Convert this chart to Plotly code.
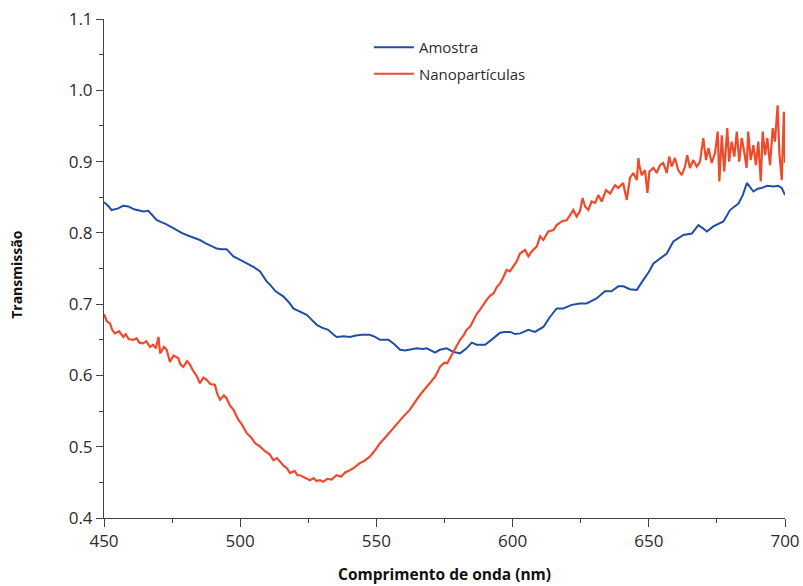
import plotly.graph_objects as go

blue_x = [450, 451.5, 452.8, 455, 457, 459, 461, 463, 464.5, 466.3, 468, 469.3, 471, 472.4, 474.8, 476.7, 478.5, 481, 483, 485.2,
          487, 488.9, 491.4, 493, 495, 496.3, 497.5, 500, 502.4, 505, 507.3, 509.7, 511, 513, 515.8, 518, 519.5, 522, 524.4, 526,
          528.1, 530, 532.3, 534, 535.4, 538, 540.3, 542.5, 544.6, 547.6, 549.5, 551.3, 554.4, 556.5, 558.7, 560.5, 562.4, 564.8, 567, 568.5,
          570, 571.5, 573.3, 575.8, 578.2, 580.7, 583.1, 585, 586.8, 589.9, 592.9, 595.4, 597, 599.1, 601, 602.8, 605.8, 608.2, 611.3, 613.7,
          616.2, 618.6, 621.7, 624.7, 627.2, 630.8, 633.9, 636.3, 638.8, 640.7, 643, 645.6, 648, 650, 651.7, 654, 656.6, 659, 662.7, 665.8,
          668.2, 670, 671.3, 673.7, 677.4, 679.8, 682.9, 684.5, 686, 688.4, 690, 691.4, 693.5, 695.7, 697.5, 698.8, 699.5, 700]
blue_y = [0.843, 0.838, 0.832, 0.834, 0.838, 0.837, 0.833, 0.831, 0.830, 0.831, 0.824, 0.818, 0.815, 0.813, 0.808, 0.804, 0.800, 0.796, 0.793, 0.790,
          0.786, 0.783, 0.778, 0.777, 0.777, 0.772, 0.767, 0.762, 0.757, 0.752, 0.746, 0.732, 0.727, 0.718, 0.711, 0.702, 0.694, 0.689, 0.685, 0.679,
          0.671, 0.667, 0.664, 0.658, 0.654, 0.655, 0.654, 0.656, 0.657, 0.657, 0.654, 0.650, 0.650, 0.644, 0.636, 0.635, 0.636, 0.638, 0.637, 0.638,
          0.635, 0.632, 0.636, 0.638, 0.633, 0.631, 0.638, 0.646, 0.643, 0.643, 0.652, 0.660, 0.661, 0.661, 0.658, 0.659, 0.664, 0.661, 0.668, 0.682,
          0.694, 0.694, 0.699, 0.701, 0.701, 0.708, 0.718, 0.718, 0.725, 0.725, 0.721, 0.720, 0.734, 0.745, 0.757, 0.764, 0.771, 0.788, 0.797, 0.799,
          0.811, 0.806, 0.802, 0.809, 0.816, 0.832, 0.841, 0.853, 0.870, 0.858, 0.862, 0.863, 0.866, 0.865, 0.866, 0.863, 0.856, 0.853]

red_x = [450, 451, 452.2, 453, 454, 455.5, 457.1, 458, 459, 460.8, 462, 463, 464.4, 465.5, 466.9, 468, 469, 470, 470.6, 472,
         473, 474.2, 475.5, 477.3, 478, 479.1, 480.5, 481.6, 482.5, 483.4, 484.2, 485.2, 486.5, 487.7, 489, 490.7, 491.5, 492.6, 494, 495,
         496.2, 497.5, 498.5, 499.3, 500.5, 502.4, 504, 505.5, 507.3, 509, 510.9, 512.2, 513.5, 514.6, 516, 517.1, 518.3, 520, 521, 522,
         523.2, 524.5, 525.6, 527, 528, 529.3, 530.5, 532, 533.5, 535.4, 537, 538.5, 540.3, 542, 543.9, 545.5, 547.6, 549.5, 551.3, 553,
         555, 557, 558.7, 560.5, 562.3, 563.5, 564.8, 566.5, 568.5, 570, 571.5, 572.5, 573.3, 575, 576, 577, 578.2, 579.5, 580.7, 582,
         583.1, 584.5, 585.6, 586.8, 588, 589.2, 590.5, 591.8, 593, 594.2, 595.4, 596.5, 597.8, 599, 600.3, 601.5,
         602.7, 604.6, 605.8, 607, 608.9, 610.1, 611.3, 613.1, 615, 616.2, 618, 619.9, 621.1, 622.3, 623.5, 624.7, 625.7, 626.6, 627.8, 629,
         630.3, 631.5, 632.7, 634.3, 635.8, 637.6, 638.8, 640.6, 641.9, 643.1, 644.3, 645.6, 646.2, 646.5, 647.4, 648.6, 649.5, 650.2,
         651.7, 652.9, 654.1, 655.3, 656.6, 657.5, 658.4, 659.6, 660.8, 662.1, 663.3, 664.1, 665.1, 666.3, 667.6, 668.8, 670, 671, 671.9, 673.1,
         674.3, 675.3, 675.9, 676.8, 677.7, 678.8, 679.5, 680.4, 681.4, 682.3, 683.2, 684.1, 685.1, 685.9, 686.5, 687.4, 688.4, 689.3, 690.2, 691.1,
         691.8, 692.7, 693.5, 694.5, 695.5, 696.3, 697.3, 697.9, 698.8, 699.6, 700]
red_y = [0.686, 0.676, 0.673, 0.664, 0.659, 0.662, 0.654, 0.658, 0.651, 0.650, 0.652, 0.646, 0.645, 0.648, 0.640, 0.643, 0.638, 0.654, 0.631, 0.640,
         0.636, 0.619, 0.628, 0.624, 0.616, 0.612, 0.620, 0.615, 0.608, 0.603, 0.598, 0.589, 0.597, 0.594, 0.588, 0.587, 0.575, 0.566, 0.572, 0.568,
         0.558, 0.552, 0.545, 0.538, 0.532, 0.519, 0.513, 0.505, 0.500, 0.494, 0.489, 0.481, 0.484, 0.479, 0.473, 0.470, 0.463, 0.466, 0.460, 0.460,
         0.458, 0.455, 0.453, 0.456, 0.452, 0.453, 0.451, 0.455, 0.454, 0.460, 0.458, 0.464, 0.467, 0.471, 0.477, 0.480, 0.486, 0.495, 0.505, 0.512,
         0.521, 0.530, 0.538, 0.545, 0.552, 0.558, 0.566, 0.575, 0.584, 0.591, 0.598, 0.605, 0.612, 0.618, 0.617, 0.624, 0.633, 0.641, 0.650, 0.656,
         0.664, 0.669, 0.678, 0.686, 0.692, 0.699, 0.706, 0.712, 0.715, 0.724, 0.729, 0.737, 0.748, 0.746, 0.753, 0.760,
         0.771, 0.776, 0.767, 0.774, 0.781, 0.795, 0.790, 0.802, 0.804, 0.811, 0.816, 0.818, 0.825, 0.832, 0.823, 0.830, 0.849, 0.837, 0.832, 0.844,
         0.842, 0.853, 0.844, 0.860, 0.855, 0.867, 0.863, 0.870, 0.846, 0.877, 0.884, 0.874, 0.905, 0.895, 0.881, 0.888, 0.856, 0.886,
         0.891, 0.884, 0.895, 0.898, 0.884, 0.907, 0.893, 0.905, 0.888, 0.881, 0.893, 0.909, 0.891, 0.902, 0.893, 0.900, 0.933, 0.902, 0.919, 0.898,
         0.912, 0.942, 0.872, 0.937, 0.886, 0.947, 0.900, 0.928, 0.907, 0.942, 0.900, 0.933, 0.912, 0.891, 0.942, 0.902, 0.923, 0.895, 0.928, 0.872,
         0.942, 0.909, 0.933, 0.895, 0.947, 0.928, 0.979, 0.914, 0.874, 0.970, 0.898]

names = ["Amostra", "Nanopartículas"]
x_ticks = [450, 500, 550, 600, 650, 700]
y_ticks = [0.4, 0.5, 0.6, 0.7, 0.8, 0.9, 1.0, 1.1]
y_tick_labels = ["0.4", "0.5", "0.6", "0.7", "0.8", "0.9", "1.0", "1.1"]

BLUE = "#1f4fa3"
RED = "#ef4a2a"
TXT = "#2b2b2b"
FONT = "Open Sans, Liberation Sans, sans-serif"

fig = go.Figure()
fig.add_trace(go.Scatter(x=blue_x, y=blue_y, mode="lines", name=names[0], legendgroup="a",
                         line=dict(color=BLUE, width=2)))
fig.add_trace(go.Scatter(x=red_x, y=red_y, mode="lines", name=names[1], legendgroup="b",
                         line=dict(color=RED, width=2.2)))

fig.update_layout(
    width=803, height=586,
    margin=dict(l=104, r=18, t=19, b=68),
    paper_bgcolor="white", plot_bgcolor="white",
    font=dict(family=FONT, size=17, color=TXT),
    legend=dict(x=0.389, y=0.976, xanchor="left", yanchor="top",
                bgcolor="rgba(0,0,0,0)", font=dict(size=15, color=TXT),
                itemwidth=40, tracegroupgap=4),
    showlegend=True,
    annotations=[
        dict(text="<b>Comprimento de onda (nm)</b>", xref="paper", yref="paper", x=0.5, y=-0.113,
             xanchor="center", yanchor="middle", showarrow=False, font=dict(size=15.5, color="#111")),
        dict(text="<b>Transmissão</b>", xref="paper", yref="paper", x=-0.128, y=0.487, textangle=-90,
             xanchor="center", yanchor="middle", showarrow=False, font=dict(size=14, color="#111")),
    ],
)
fig.update_xaxes(
    range=[450, 700], tickvals=x_ticks, showgrid=False, zeroline=False, automargin=False,
    showline=True, linecolor="#444", linewidth=1,
    ticks="outside", ticklen=8, tickcolor="#444", tickwidth=1,
    minor=dict(dtick=25, tick0=450, ticks="outside", ticklen=4, tickcolor="#444", tickwidth=1, showgrid=False),
    tickfont=dict(size=17, color=TXT),
)
fig.update_yaxes(
    range=[0.4, 1.1], tickvals=y_ticks, ticktext=y_tick_labels, showgrid=False, zeroline=False, automargin=False,
    showline=True, linecolor="#444", linewidth=1,
    ticks="outside", ticklen=7, tickcolor="#444", tickwidth=1,
    minor=dict(dtick=0.05, tick0=0.4, ticks="outside", ticklen=4, tickcolor="#444", tickwidth=1, showgrid=False),
    tickfont=dict(size=17, color=TXT),
)

fig.write_html("out.html")
